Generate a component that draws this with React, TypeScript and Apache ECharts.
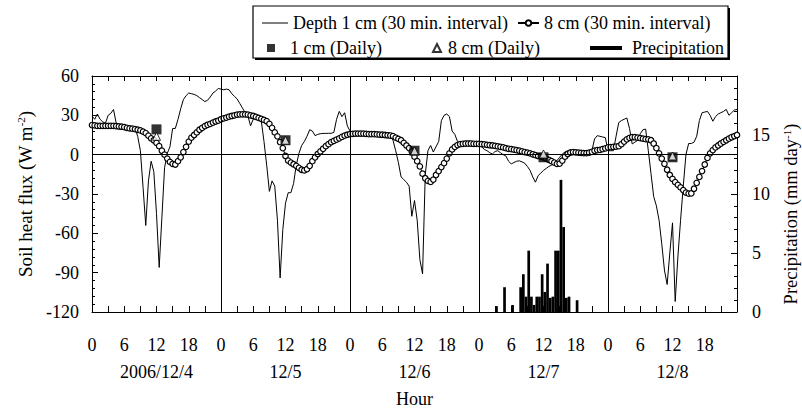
import React, { useEffect, useRef } from 'react';
import * as echarts from 'echarts';

// ---- data ----
const STEP_HOURS = 0.5; // 30-min interval

const flux1cm = [
  29.5, 27, 31, 27, 25, 24, 30, 31.5, 34.5, 24,
  22.5, 22, 22, 21.5, 21, 20.5, 20, 14, 3, -25,
  -54, -20, -5, -13, -45, -86, -48, -10, 1, 6,
  20, 20, 27, 35, 42, 45, 47, 46.5, 46, 45,
  43.5, 42, 40.5, 41.5, 44, 47, 48.5, 50.5, 50, 49.5,
  50, 49.5, 46.5, 44.5, 42.5, 39, 35.5, 32, 29.5, 22,
  27, 28, 27, 25.5, 10, -8, -28, -20, -24, -50,
  -94, -57, -37, -29, -29, -22, -8, 1, 7, 10,
  14, 19, 18, 14.5, 15.5, 16, 16.2, 16.2, 16.3, 16.3,
  17, 27, 33, 29, 32, 22, 18, 17, 16.8, 16.8,
  16.8, 16.6, 16.5, 16.5, 16.4, 16.3, 16.2, 16, 16, 15.8,
  15.5, 15, 11, 3, -6, -17, -19, -21, -24, -47,
  -35, -50, -80, -91, -15, 3, 7, 2, 6, 10,
  26, 30, 31, 29, 18, 15.5, 10, 8.5, 8.3, 8.3,
  8.2, 8.2, 8.2, 8, 7.5, 6, 4, 3, 1.5, 0.5,
  2.5, 3, 1.5, 0, -1, -5, -7, -6, -5, -4.7,
  -5.5, -6.5, -9, -12, -17, -21, -16, -14, -12, -10.5,
  -9, -8, -6, -4.5, -2, 0.5, 2, 3, 3.7, 2.5,
  1, 0.7, 0.7, 0.7, 0.7, 1.5, 3, 12, 14.5, 14,
  13.5, 13, 3, 3, 3, 14, 24.5, 26, 27, 28,
  20, 8.2, 9.5, 11, 16, 19, 19.5, 3, -14.5, -32,
  -39, -50, -68, -88, -99, -75, -52, -112, -78, -50,
  -24, 0, 8.5, 8.5, 9.5, 14, 26, 32, 32.5, 33,
  30, 25.5, 29, 31, 32, 33, 34.5, 30, 32, 34,
  34.5,
];

const flux8cm = [
  22.6, 22.3, 22, 22, 22, 22, 22, 22, 22, 21.8,
  21.5, 21.3, 21, 20.5, 20, 19.8, 19.5, 19, 18.5, 17.5,
  16.5, 14.5, 12.5, 11, 9, 6.5, 3, 0, -3, -5.5,
  -7, -7.5, -5, -2, 2, 6, 10, 13, 15, 17,
  19, 20.5, 21.8, 22.8, 23.5, 24.5, 25.3, 26, 27, 27.7,
  28.3, 29, 29.5, 30, 30.5, 30.7, 30.8, 30.7, 30.5, 30,
  29.5, 28.8, 28, 27.3, 26.5, 25.5, 23.5, 20.5, 17, 14,
  9.5, 5, -1, -4.5, -6, -7.3, -8.5, -10, -11.5, -12,
  -11, -8.5, -5, -2, 0.5, 2.5, 4.5, 6.5, 8, 9.5,
  10.5, 11.5, 12.5, 13.5, 14.5, 15.2, 15.7, 15.8, 16, 16,
  16, 16, 15.8, 15.7, 15.7, 15.6, 15.5, 15.3, 15.2, 15,
  14.8, 14.6, 14.2, 13, 12, 11, 9, 7, 5, 2.5,
  -1.5, -5, -9, -14.5, -18, -20, -20.8, -19, -15.5, -12.5,
  -9.5, -6.5, -3, 1, 4, 6, 7.3, 8, 8.3, 8.5,
  8.5, 8.5, 8.3, 8.2, 8.2, 8, 7.8, 7.5, 7.2, 7,
  6.7, 6.3, 6, 5.5, 5, 4.5, 4.2, 3.8, 3.4, 3,
  2.5, 2, 1.5, 1, 0.3, -0.3, -1, -1.5, -2, -3,
  -4, -5, -6, -7, -6.8, -4.5, -1.5, 0.5, 1.5, 2,
  1.8, 1.5, 1.3, 1.2, 1.2, 1.5, 2.2, 3, 3.5, 3.7,
  4.2, 4.8, 5.5, 5.8, 6, 6.2, 6.5, 8, 10, 11.7,
  12.8, 13.3, 13.3, 13, 12.6, 12.2, 11.8, 11.7, 11, 8.5,
  5, 1, -3, -7, -11.5, -15.5, -18.5, -21, -23, -25,
  -27, -29, -29.7, -29.5, -26, -21.5, -17, -12.5, -7.5, -2.5,
  1, 3.5, 5.5, 7, 8.5, 9.8, 11, 12.2, 13.3, 14.2,
  15,
];

const dailyHours = [12, 36, 60, 84, 108];
const daily1cm = [19.3, 11, 3, -2, -2];
const daily8cm = [14, 11, 3, 0.5, -1];

const precipHours = [
  75.25, 76.75, 78.25, 79.75, 80.25, 80.75, 81.25, 81.75, 82.25, 82.75, 83.25, 83.75,
  84.25, 84.75, 85.25, 85.75, 86.25, 86.75, 87.25, 87.75, 88.25, 88.75, 90.25,
];
const precipValues = [
  0.5, 2.1, 0.6, 2.1, 3.2, 1.3, 5.2, 1.3, 0.6, 1.3, 1.3, 3.2,
  1.7, 4.1, 1.2, 1.3, 5.2, 5.2, 11.2, 7.2, 1.2, 1.3, 1.0,
];

const dayBoundaries = [24, 48, 72, 96];
const dayLabels = ['2006/12/4', '12/5', '12/6', '12/7', '12/8'];

const NAME_1CM = 'Depth 1 cm (30 min. interval)';
const NAME_8CM = '8 cm (30 min. interval)';
const NAME_D1 = '1 cm (Daily)';
const NAME_D8 = '8 cm (Daily)';
const NAME_P = 'Precipitation';

const FONT = 'Liberation Serif';
const BLACK = '#000';

export default function App() {
  const ref = useRef<HTMLDivElement>(null);

  useEffect(() => {
    if (!ref.current) return;
    const chart = echarts.init(ref.current, undefined, { renderer: 'svg' });

    const series1 = flux1cm.map((v, i) => [i * STEP_HOURS, v]);
    const series8 = flux8cm.map((v, i) => [i * STEP_HOURS, v]);
    const d1 = dailyHours.map((h, i) => [h, daily1cm[i]]);
    const d8 = dailyHours.map((h, i) => [h, daily8cm[i]]);
    const precip = precipHours.map((h, i) => [h, precipValues[i]]);

    const txt = { fontFamily: FONT, fontSize: 18, color: BLACK };

    const legendBase = {
      orient: 'horizontal',
      padding: 0,
      selectedMode: false,
      z: 10,
      textStyle: { ...txt },
    };

    const ROW1 = 14;
    const ROW2 = 39;

    const option: any = {
      animation: false,
      backgroundColor: '#fff',
      grid: {
        left: 92,
        right: 65,
        top: 76,
        bottom: 98,
        containLabel: false,
        outerBoundsMode: 'none',
      },
      legend: [
        {
          ...legendBase, data: [{ name: NAME_1CM, icon: 'rect' }], left: 262, top: ROW1,
          itemWidth: 26, itemHeight: 1, itemStyle: { color: BLACK },
        },
        { ...legendBase, data: [{ name: NAME_8CM }], left: 517, top: ROW1, itemWidth: 21, itemHeight: 7 },
        {
          ...legendBase, data: [{ name: NAME_D1 }], left: 267, top: ROW2, itemWidth: 8, itemHeight: 8,
          textStyle: { ...txt, padding: [0, 0, 0, 10] },
        },
        {
          ...legendBase, data: [{ name: NAME_D8 }], left: 432, top: ROW2, itemWidth: 8, itemHeight: 8,
          textStyle: { ...txt, padding: [0, 0, 0, 2] },
        },
        {
          ...legendBase, data: [{ name: NAME_P, icon: 'rect' }], left: 590, top: ROW2, itemWidth: 32, itemHeight: 4,
          textStyle: { ...txt, padding: [0, 0, 0, 5] },
        },
      ],
      graphic: {
        elements: [
          {
            type: 'rect', silent: true, z: 1, x: 255, y: 8,
            shape: { x: 0, y: 0, width: 475, height: 52 }, style: { fill: BLACK },
          },
          {
            type: 'rect', silent: true, z: 2, x: 253, y: 6,
            shape: { x: 0, y: 0, width: 475, height: 52 }, style: { fill: '#fff', stroke: BLACK, lineWidth: 1.2 },
          },
        ],
      },
      xAxis: [
        {
          type: 'value',
          position: 'bottom',
          min: 0,
          max: 120,
          interval: 3,
          axisLine: { show: true, onZero: false, lineStyle: { color: BLACK, width: 1 } },
          axisTick: { show: true, inside: true, length: 6, lineStyle: { color: BLACK } },
          axisLabel: {
            ...txt,
            margin: 24,
            formatter: (v: number) => (v < 120 && v % 6 === 0 ? String(v % 24) : ''),
          },
          splitLine: { show: false },
          name: 'Hour',
          nameLocation: 'middle',
          nameGap: 78,
          nameTextStyle: { ...txt },
        },
        {
          type: 'value',
          position: 'bottom',
          min: 0,
          max: 120,
          interval: 12,
          axisLine: { show: false, onZero: false },
          axisTick: { show: false },
          axisLabel: {
            ...txt,
            margin: 51,
            formatter: (v: number) => (v % 24 === 12 ? dayLabels[(v - 12) / 24] : ''),
          },
          splitLine: { show: false },
        },
        {
          type: 'value',
          position: 'top',
          min: 0,
          max: 120,
          interval: 3,
          axisLine: { show: true, onZero: false, lineStyle: { color: BLACK, width: 1 } },
          axisTick: { show: true, inside: true, length: 5, lineStyle: { color: BLACK } },
          axisLabel: { show: false },
          splitLine: { show: false },
        },
      ],
      yAxis: [
        {
          type: 'value',
          position: 'left',
          min: -120,
          max: 60,
          interval: 30,
          axisLine: { show: true, onZero: false, lineStyle: { color: BLACK, width: 1 } },
          axisTick: { show: true, inside: true, length: 6, lineStyle: { color: BLACK } },
          minorTick: { show: true, splitNumber: 5, length: 3, lineStyle: { color: BLACK } },
          axisLabel: { ...txt, margin: 13 },
          splitLine: { show: false },
          name: 'Soil heat flux (W m{sup|-2})',
          nameLocation: 'middle',
          nameRotate: 90,
          nameGap: 55,
          nameTextStyle: {
            fontFamily: FONT,
            fontSize: 19,
            color: BLACK,
            rich: { sup: { fontFamily: FONT, fontSize: 11, color: BLACK, padding: [0, 0, 9, 0] } },
          },
        },
        {
          type: 'value',
          position: 'right',
          min: 0,
          max: 20,
          interval: 5,
          axisLine: { show: true, onZero: false, lineStyle: { color: BLACK, width: 1 } },
          axisTick: { show: true, inside: true, length: 6, lineStyle: { color: BLACK } },
          minorTick: { show: true, splitNumber: 5, length: 3, lineStyle: { color: BLACK } },
          axisLabel: { ...txt, margin: 15, formatter: (v: number) => (v === 20 ? '' : String(v)) },
          splitLine: { show: false },
          name: 'Precipitation (mm day{sup|-1})',
          nameLocation: 'middle',
          nameRotate: 90,
          nameGap: 44,
          nameTextStyle: {
            fontFamily: FONT,
            fontSize: 18.5,
            color: BLACK,
            padding: [0, 40, 0, 0],
            rich: { sup: { fontFamily: FONT, fontSize: 11, color: BLACK, padding: [0, 0, 9, 0] } },
          },
        },
      ],
      series: [
        {
          name: NAME_P,
          type: 'bar',
          xAxisIndex: 0,
          yAxisIndex: 1,
          data: precip,
          barWidth: 2.7,
          itemStyle: { color: BLACK },
          silent: true,
          z: 2,
        },
        {
          name: NAME_1CM,
          type: 'line',
          xAxisIndex: 0,
          yAxisIndex: 0,
          data: series1,
          symbol: 'none',
          lineStyle: { color: BLACK, width: 1 },
          itemStyle: { color: BLACK },
          silent: true,
          z: 3,
          markLine: {
            silent: true,
            symbol: 'none',
            label: { show: false },
            lineStyle: { color: BLACK, width: 1, type: 'solid' },
            emphasis: { disabled: true },
            data: [{ yAxis: 0 }, ...dayBoundaries.map((h) => ({ xAxis: h }))],
          },
        },
        {
          name: NAME_8CM,
          type: 'line',
          xAxisIndex: 0,
          yAxisIndex: 0,
          data: series8,
          symbol: 'circle',
          symbolSize: 5.5,
          showAllSymbol: true,
          lineStyle: { color: BLACK, width: 1 },
          itemStyle: { color: '#fff', borderColor: BLACK, borderWidth: 1.2 },
          silent: true,
          z: 4,
        },
        {
          name: NAME_D1,
          type: 'scatter',
          xAxisIndex: 0,
          yAxisIndex: 0,
          data: d1,
          symbol: 'rect',
          symbolSize: 10,
          itemStyle: { color: BLACK },
          silent: true,
          z: 5,
        },
        {
          name: NAME_D8,
          type: 'scatter',
          xAxisIndex: 0,
          yAxisIndex: 0,
          data: d8,
          symbol: 'triangle',
          symbolSize: 8,
          itemStyle: { color: '#fff', borderColor: BLACK, borderWidth: 1 },
          silent: true,
          z: 6,
        },
      ],
    };

    chart.setOption(option);
    return () => chart.dispose();
  }, []);

  return (
    <div
      ref={ref}
      style={{ position: 'absolute', left: 0, top: 0, width: 802, height: 410, background: '#fff' }}
    />
  );
}
